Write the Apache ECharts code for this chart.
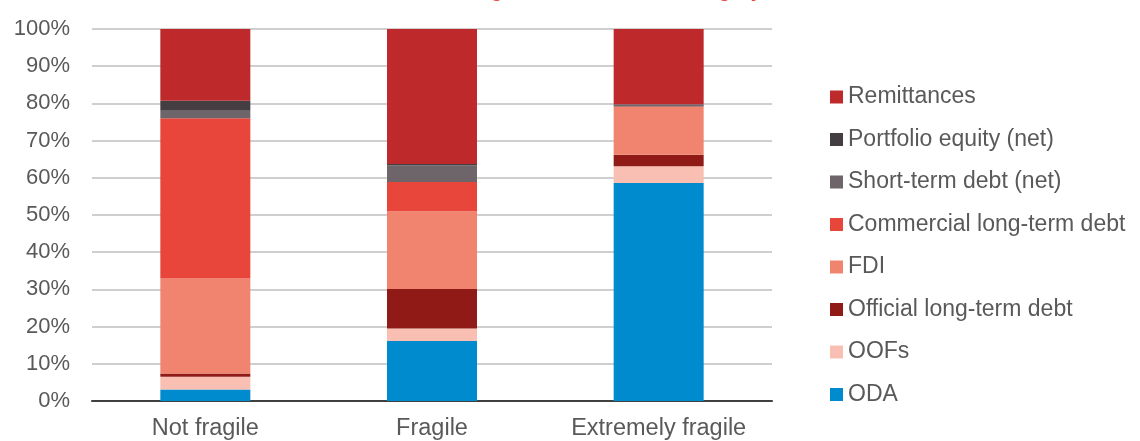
<!DOCTYPE html>
<html>
<head>
<meta charset="utf-8">
<script src="https://cdn.jsdelivr.net/npm/echarts@6/dist/echarts.min.js"></script>
<style>
html,body{margin:0;padding:0;background:#fff;}
#c{width:1140px;height:441px;}
</style>
</head>
<body>
<div id="c"></div>
<script>
const categories = ['Not fragile', 'Fragile', 'Extremely fragile'];
const oda = [3.1, 16.1, 58.6];
const oofs = [3.4, 3.4, 4.5];
const officialLtd = [0.9, 10.6, 3.1];
const fdi = [25.5, 20.9, 12.8];
const commercialLtd = [43.1, 7.9, 0.2];
const shortTerm = [2.0, 4.5, 0.5];
const portfolio = [2.7, 0.3, 0.1];
const remittances = [19.3, 36.3, 20.2];
const titleText = 'Shares of international resources reaching countries in each category,';

const seriesDefs = [
  {name: 'ODA', data: oda, color: '#008BCE'},
  {name: 'OOFs', data: oofs, color: '#F8BFB2'},
  {name: 'Official long-term debt', data: officialLtd, color: '#8F1A16'},
  {name: 'FDI', data: fdi, color: '#F0846F'},
  {name: 'Commercial long-term debt', data: commercialLtd, color: '#E8453B'},
  {name: 'Short-term debt (net)', data: shortTerm, color: '#6D6569'},
  {name: 'Portfolio equity (net)', data: portfolio, color: '#443E42'},
  {name: 'Remittances', data: remittances, color: '#BE2A2C'}
];

const chart = echarts.init(document.getElementById('c'), null, {renderer: 'canvas'});
const font = 'Liberation Sans, Arial, sans-serif';
chart.setOption({
  animation: false,
  backgroundColor: '#ffffff',
  graphic: [{
    type: 'text',
    right: 1140 - 766,
    top: -18.8,
    style: {
      text: titleText,
      fill: '#E8453B',
      font: 'bold 20px ' + font,
      textAlign: 'right'
    }
  }],
  grid: {left: 92, right: 368, top: 29, bottom: 40, containLabel: false},
  legend: {
    orient: 'vertical',
    left: 825,
    top: 80.5,
    itemWidth: 13,
    itemHeight: 13,
    itemGap: 19.5,
    icon: 'rect',
    data: seriesDefs.map(s => s.name).reverse(),
    textStyle: {color: '#595959', fontSize: 23, lineHeight: 23, fontFamily: font}
  },
  xAxis: {
    type: 'category',
    data: categories,
    axisTick: {show: false},
    axisLine: {lineStyle: {color: '#404040', width: 2}},
    axisLabel: {color: '#595959', fontSize: 23.5, fontFamily: font, margin: 16, interval: 0, hideOverlap: false}
  },
  yAxis: {
    type: 'value',
    min: 0,
    max: 100,
    interval: 10,
    axisLine: {show: false},
    axisTick: {show: false},
    splitLine: {lineStyle: {color: '#BFBFBF', width: 1.5}},
    axisLabel: {color: '#595959', fontSize: 22, fontFamily: font, margin: 22, formatter: '{value}%'}
  },
  series: seriesDefs.map(s => ({
    name: s.name,
    type: 'bar',
    stack: 'total',
    barWidth: 90,
    data: s.data,
    itemStyle: {color: s.color},
    emphasis: {disabled: true}
  }))
});
</script>
</body>
</html>
